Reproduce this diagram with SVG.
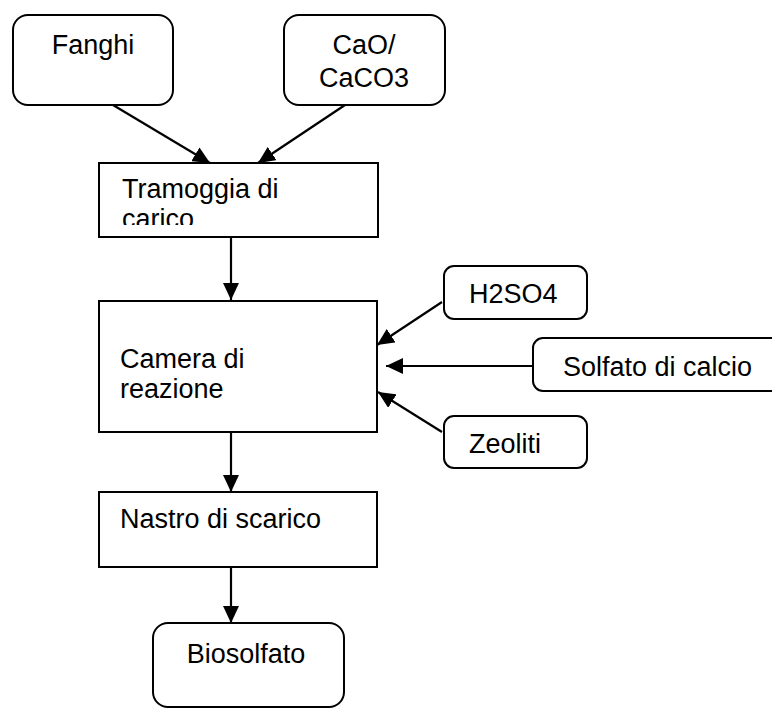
<svg xmlns="http://www.w3.org/2000/svg" width="772" height="709" viewBox="0 0 772 709">
<defs>
<style>
.box{fill:#fff;stroke:#000;stroke-width:2}
.t{font-family:"Liberation Sans",Arial,sans-serif;font-size:27px;fill:#000}
.c{text-anchor:middle}
.ln{stroke:#000;stroke-width:2.2;fill:none;marker-end:url(#ah)}
</style>
<marker id="ah" markerUnits="userSpaceOnUse" markerWidth="18" markerHeight="16" refX="17" refY="8" orient="auto">
<path d="M0,0 L17,8 L0,16 z" fill="#000"/>
</marker>
<clipPath id="clipTram"><rect x="99" y="163" width="279" height="62"/></clipPath>
</defs>
<rect width="772" height="709" fill="#fff"/>
<g id="connectors">
<line class="ln" x1="113" y1="105" x2="210" y2="163"/>
<line class="ln" x1="345" y1="105" x2="258" y2="163"/>
<line class="ln" x1="231" y1="237" x2="231" y2="300"/>
<line class="ln" x1="442" y1="302" x2="377" y2="345"/>
<line class="ln" x1="533" y1="366" x2="386" y2="366"/>
<line class="ln" x1="442" y1="432" x2="378" y2="392"/>
<line class="ln" x1="231" y1="432" x2="231" y2="492"/>
<line class="ln" x1="231" y1="567" x2="231" y2="623"/>
</g>
<g id="fanghi">
<rect class="box" x="13" y="15" width="160" height="90" rx="15"/>
<text class="t c" x="93" y="54">Fanghi</text>
</g>
<g id="cao">
<rect class="box" x="284" y="15" width="161" height="90" rx="15"/>
<text class="t c" x="364" y="54">CaO/</text>
<text class="t c" x="364" y="87">CaCO3</text>
</g>
<g id="tramoggia">
<rect class="box" x="99" y="163" width="279" height="74"/>
<g clip-path="url(#clipTram)">
<text class="t" x="122" y="198">Tramoggia di</text>
<text class="t" x="122" y="228">carico</text>
</g>
</g>
<g id="camera">
<rect class="box" x="99" y="301" width="278" height="131"/>
<text class="t" x="120" y="368">Camera di</text>
<text class="t" x="120" y="398">reazione</text>
</g>
<g id="h2so4">
<rect class="box" x="444" y="266" width="143" height="53" rx="10"/>
<text class="t" x="469" y="303">H2SO4</text>
</g>
<g id="solfato">
<rect class="box" x="533" y="338" width="260" height="53" rx="10"/>
<text class="t" x="563" y="376">Solfato di calcio</text>
</g>
<g id="zeoliti">
<rect class="box" x="444" y="416" width="143" height="52" rx="10"/>
<text class="t" x="469" y="453">Zeoliti</text>
</g>
<g id="nastro">
<rect class="box" x="99" y="492" width="278" height="75"/>
<text class="t" x="120" y="528">Nastro di scarico</text>
</g>
<g id="biosolfato">
<rect class="box" x="153" y="623" width="191" height="84" rx="15"/>
<text class="t c" x="246" y="663">Biosolfato</text>
</g>
</svg>
